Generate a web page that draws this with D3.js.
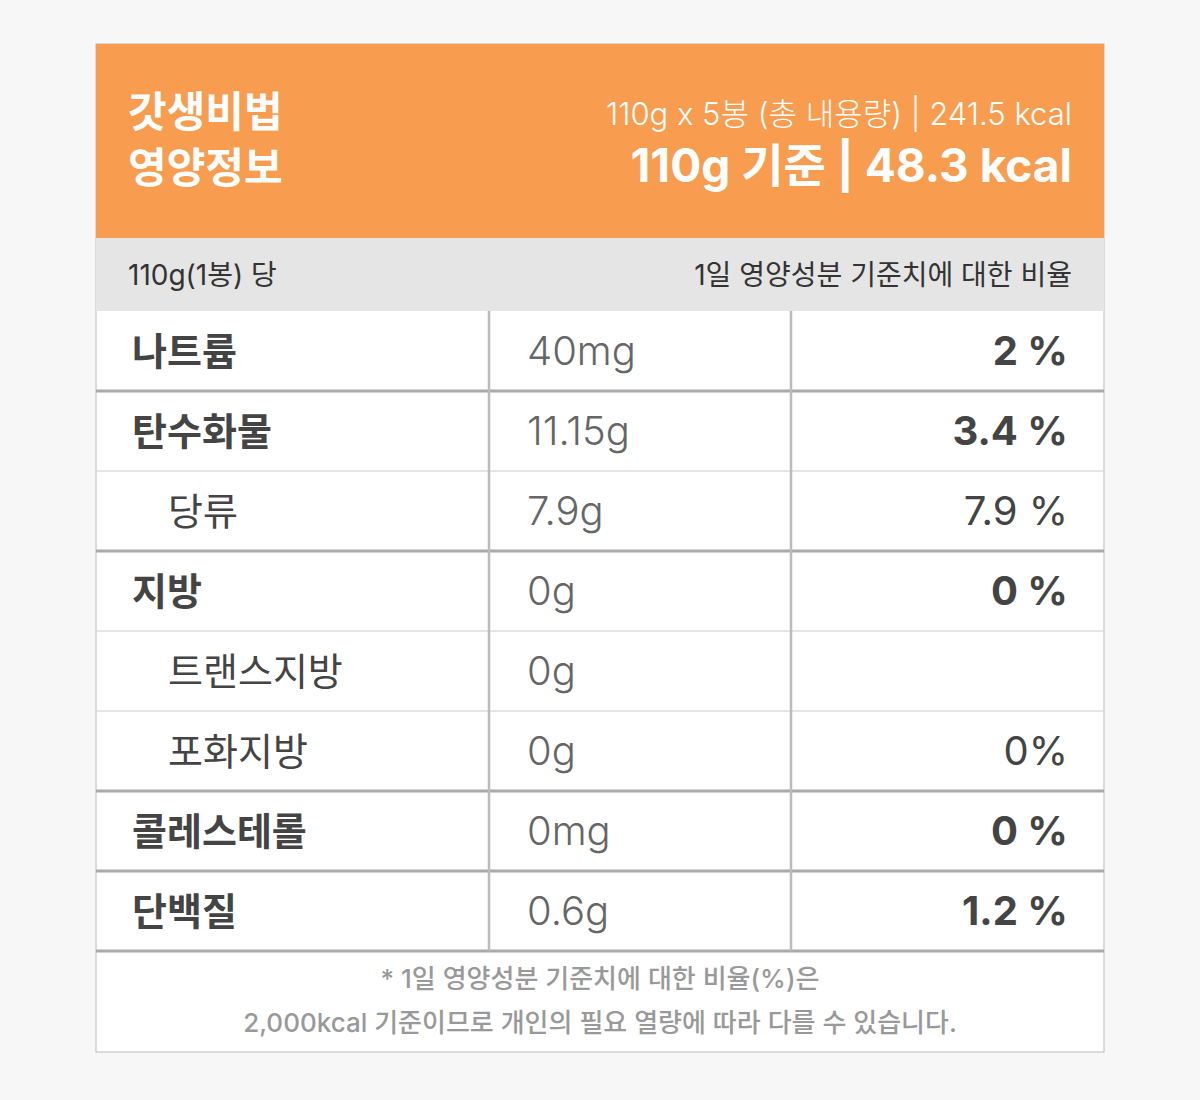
<!DOCTYPE html>
<html><head><meta charset="utf-8">
<script src="https://cdn.jsdelivr.net/npm/d3@7"></script>
<style>body{margin:0;background:#f7f7f7;font-family:Inter,"Noto Sans CJK KR","Noto Sans",sans-serif}</style>
</head><body><svg id="c" width="1200" height="1100"></svg>
<script>
const titleLines = ["갓생비법","영양정보"];
const totalLine = "110g x 5봉 (총 내용량) | 241.5 kcal";
const baseLine = "110g 기준 | 48.3 kcal";
const subLeft = "110g(1봉) 당";
const subRight = "1일 영양성분 기준치에 대한 비율";
const nutrients = ["나트륨","탄수화물","당류","지방","트랜스지방","포화지방","콜레스테롤","단백질"];
const amounts = ["40mg","11.15g","7.9g","0g","0g","0g","0mg","0.6g"];
const percents = ["2 %","3.4 %","7.9 %","0 %","","0%","0 %","1.2 %"];
const isSub = [false,false,true,false,true,true,false,false];
const thickAfter = [true,false,true,false,false,true,true,true];
const footnotes = ["* 1일 영양성분 기준치에 대한 비율(%)은","2,000kcal 기준이므로 개인의 필요 열량에 따라 다를 수 있습니다."];

const svg = d3.select("#c");
const L=96,R=1104,T=44,B=1052;
svg.append("rect").attr("x",L).attr("y",T).attr("width",R-L).attr("height",B-T).attr("fill","#fff").attr("stroke","#bbb");
svg.append("rect").attr("x",L).attr("y",T).attr("width",R-L).attr("height",194).attr("fill","#F89C4F");
svg.append("rect").attr("x",L).attr("y",238).attr("width",R-L).attr("height",73).attr("fill","#E5E5E5");
titleLines.forEach((t,i)=>svg.append("text").attr("x",128).attr("y",127+i*56).attr("font-size",42).attr("font-weight",700).attr("fill","#fff").text(t));
svg.append("text").attr("x",1072).attr("y",125).attr("text-anchor","end").attr("font-size",31).attr("font-weight",300).attr("fill","#fff").text(totalLine);
svg.append("text").attr("x",1072).attr("y",182).attr("text-anchor","end").attr("font-size",46).attr("font-weight",700).attr("fill","#fff").text(baseLine);
svg.append("text").attr("x",128).attr("y",285).attr("font-size",28).attr("fill","#333").text(subLeft);
svg.append("text").attr("x",1072).attr("y",285).attr("text-anchor","end").attr("font-size",28).attr("fill","#333").text(subRight);

const y = d3.scaleBand().domain(d3.range(nutrients.length)).range([311,951]);
const g = svg.selectAll("g.row").data(nutrients).join("g").attr("transform",(d,i)=>`translate(0,${y(i)})`);
const h=y.bandwidth();
g.append("text").attr("x",(d,i)=>isSub[i]?168:132).attr("y",h/2+14).attr("font-size",38)
 .attr("font-weight",(d,i)=>isSub[i]?400:700).attr("fill","#444").text(d=>d);
g.append("text").attr("x",527).attr("y",h/2+14).attr("font-size",40).attr("font-weight",300).attr("fill","#666").text((d,i)=>amounts[i]);
g.append("text").attr("x",1068).attr("y",h/2+14).attr("text-anchor","end").attr("font-size",40)
 .attr("font-weight",(d,i)=>isSub[i]?400:700).attr("fill","#444").text((d,i)=>percents[i]);
g.append("line").attr("x1",L).attr("x2",R).attr("y1",h).attr("y2",h)
 .attr("stroke",(d,i)=>thickAfter[i]?"#aaa":"#ddd").attr("stroke-width",(d,i)=>thickAfter[i]?3:1.5);
[489,791].forEach(x=>svg.append("line").attr("x1",x).attr("x2",x).attr("y1",311).attr("y2",951).attr("stroke","#bbb").attr("stroke-width",2.5));
footnotes.forEach((t,i)=>svg.append("text").attr("x",600).attr("y",988+i*44).attr("text-anchor","middle").attr("font-size",26).attr("font-weight",500).attr("fill","#999").text(t));
</script></body></html>
